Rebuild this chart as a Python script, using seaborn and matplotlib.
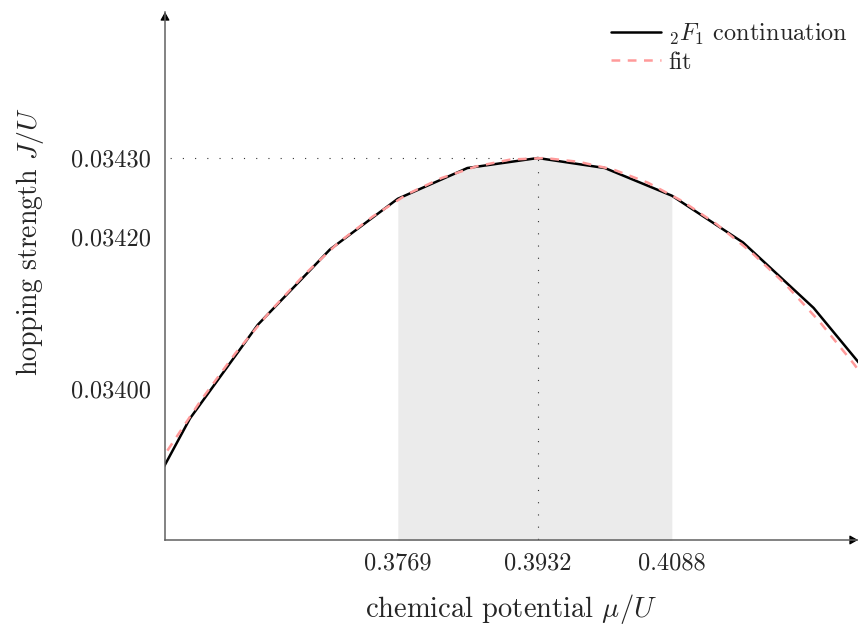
import matplotlib
matplotlib.use("Agg")
import matplotlib.pyplot as plt
import pandas as pd
import seaborn as sns

# black curve: 2F1 continuation
mu_cont = [0.3445, 0.3527, 0.3606, 0.3690, 0.3769, 0.3850, 0.3932,
           0.4010, 0.4088, 0.4171, 0.4253, 0.4335]
j_cont = [0.033791, 0.033961, 0.034083, 0.034181, 0.034247, 0.034287,
          0.034300, 0.034287, 0.034251, 0.034190, 0.034105, 0.033994]

# dashed fit curve
mu_fit = [0.346, 0.350, 0.354, 0.358, 0.362, 0.366, 0.370, 0.374, 0.378,
          0.382, 0.386, 0.390, 0.394, 0.398, 0.402, 0.406, 0.410, 0.414,
          0.418, 0.422, 0.426, 0.430, 0.434]
j_fit = [0.033848, 0.033918, 0.033985, 0.034046, 0.034100, 0.034148,
         0.034190, 0.034224, 0.034253, 0.034274, 0.034289, 0.034298,
         0.034300, 0.034295, 0.034285, 0.034268, 0.034244, 0.034214,
         0.034178, 0.034136, 0.034087, 0.034032, 0.033970]

mu_lo, mu_peak, mu_hi = 0.3769, 0.3932, 0.4088
j_peak = 0.0343

x_ticks = [0.3769, 0.3932, 0.4088]
x_labels = ["0.3769", "0.3932", "0.4088"]
y_ticks = [0.0340, 0.034197, 0.0343]
y_labels = ["0.03400", "0.03420", "0.03430"]

sns.set_style("white")
plt.rcParams["font.family"] = ["cmr10", "DejaVu Serif"]
plt.rcParams["mathtext.fontset"] = "cm"
plt.rcParams["axes.formatter.use_mathtext"] = True

fig = plt.figure(figsize=(8.58, 6.24), dpi=100)
ax = fig.add_axes([165 / 858, 84 / 624, 693 / 858, 528 / 624])

df_cont = pd.DataFrame({"mu": mu_cont, "J": j_cont})
df_fit = pd.DataFrame({"mu": mu_fit, "J": j_fit})

# shaded region under the curve
band = df_cont[(df_cont["mu"] >= mu_lo - 1e-6) & (df_cont["mu"] <= mu_hi + 1e-6)]
ax.fill_between(band["mu"], 0.0335, band["J"], color="#ebebeb", lw=0, zorder=0)

# dotted guides to the maximum
ax.plot([0.3, mu_peak], [j_peak, j_peak], color="#333333", lw=0.8,
        ls=(0, (1, 10)), zorder=1)
ax.plot([mu_peak, mu_peak], [0.0330, j_peak], color="#333333", lw=0.8,
        ls=(0, (1, 10)), zorder=1)

sns.lineplot(data=df_cont, x="mu", y="J", ax=ax, color="black", lw=1.8,
             label=r"${}_2F_1$ continuation", sort=False, zorder=3)
sns.lineplot(data=df_fit, x="mu", y="J", ax=ax, color="#ff9a9a", lw=1.8,
             ls=(0, (3.5, 3)), label="fit", sort=False, zorder=4)

ax.set_xlim(0.3498, 0.43047)
ax.set_ylim(0.033803, 0.034490)

ax.set_xticks(x_ticks)
ax.set_xticklabels(x_labels)
ax.set_yticks(y_ticks)
ax.set_yticklabels(y_labels)
ax.tick_params(axis="both", direction="inout", length=8.5, width=0.8,
               color="#606060", labelsize=17.5, pad=5)
ax.tick_params(axis="y", pad=6)

for side in ["top", "right"]:
    ax.spines[side].set_visible(False)
for side in ["left", "bottom"]:
    ax.spines[side].set_color("#606060")
    ax.spines[side].set_linewidth(1.1)
    ax.spines[side].set_zorder(5)

# small black arrow heads at the ends of the axes
head = dict(arrowstyle="-|>,head_length=0.5,head_width=0.28",
            color="black", lw=0.8, shrinkA=0, shrinkB=0, mutation_scale=10)
ax.annotate("", xy=(1.0, 0), xytext=(0.99, 0), xycoords="axes fraction",
            arrowprops=head, annotation_clip=False)
ax.annotate("", xy=(0, 1.0), xytext=(0, 0.99), xycoords="axes fraction",
            arrowprops=head, annotation_clip=False)

ax.set_xlabel(r"chemical potential $\mu/U$", fontsize=20.5, labelpad=12)
ax.set_ylabel(r"hopping strength $J/U$", fontsize=20)
ax.yaxis.set_label_coords(-0.172, 0.565)

leg = ax.legend(loc="upper right", bbox_to_anchor=(1.0, 1.0), frameon=False,
                fontsize=17.5, handlelength=2.05, handletextpad=0.3,
                labelspacing=0.2, borderaxespad=0.0)

fig.savefig("out.png", dpi=100)
